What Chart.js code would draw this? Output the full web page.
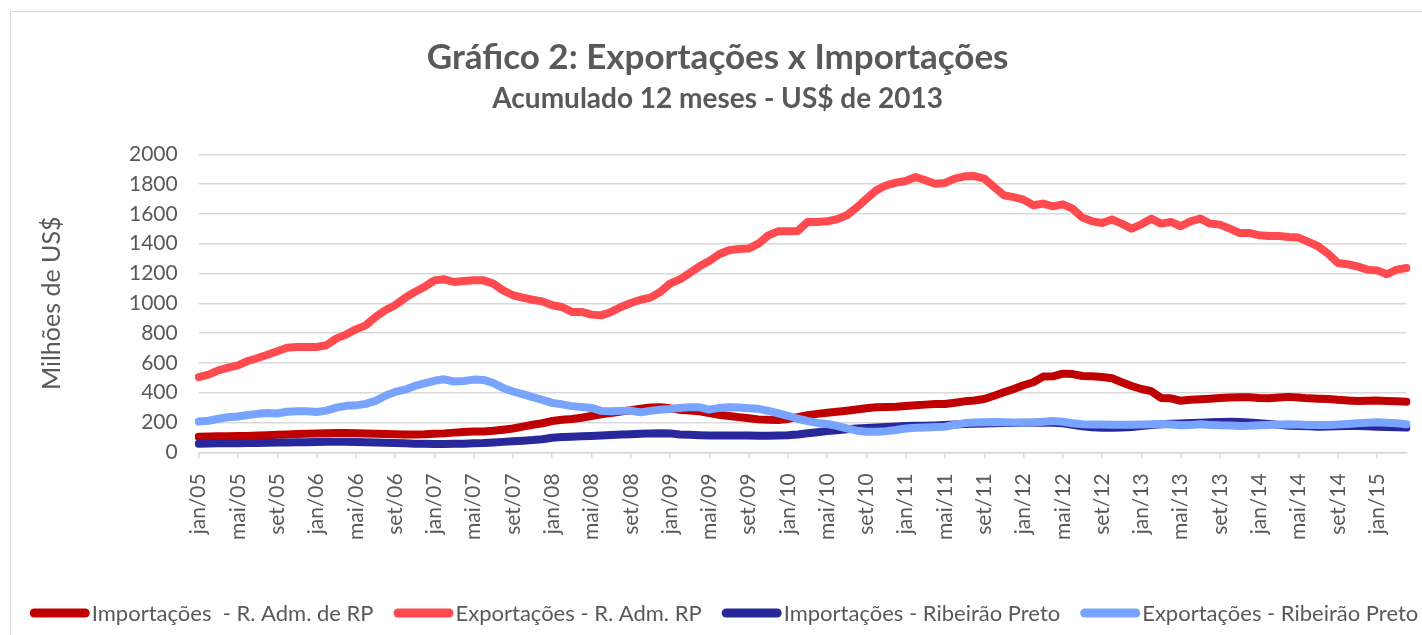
<!DOCTYPE html>
<html>
<head>
<meta charset="utf-8">
<script src="https://cdn.jsdelivr.net/npm/chart.js@4.4.0/dist/chart.umd.min.js"></script>
<style>
  html, body { margin: 0; padding: 0; background: #fff; overflow: hidden; }
  #frame { position: absolute; left: 10px; top: 11px; width: 1500px; height: 700px; border: 1.5px solid #d9d9d9; }
  #grafico { position: absolute; left: 0; top: 0; width: 1422px; height: 635px; }
</style>
</head>
<body>
<div id="frame"></div>
<canvas id="grafico" width="1422" height="635"></canvas>
<script>
// rótulos do eixo x (mensal, jan/05 a abr/15)
var meses = ['jan', 'fev', 'mar', 'abr', 'mai', 'jun', 'jul', 'ago', 'set', 'out', 'nov', 'dez'];
var anos = ['05', '06', '07', '08', '09', '10', '11', '12', '13', '14', '15'];
var nPontos = 124;
var yTicks = [0, 200, 400, 600, 800, 1000, 1200, 1400, 1600, 1800, 2000];

var nomes = ['Importações  - R. Adm. de RP', 'Exportações - R. Adm. RP', 'Importações - Ribeirão Preto', 'Exportações - Ribeirão Preto'];
var cores = ['#C00000', '#FF4B4F', '#28289A', '#78A4FF'];

// milhões de US$ (acumulado 12 meses)
var imp_ra = [105, 106, 107, 108, 109, 110, 112, 115, 118, 120, 122, 124, 126, 128, 130, 130, 128, 126, 124, 122, 121, 120, 120, 121,
    124, 127, 132, 136, 140, 140, 145, 152, 160, 172, 185, 195, 210, 218, 224, 232, 244, 255, 264, 273, 282, 293, 300, 302,
    295, 286, 280, 275, 263, 252, 244, 236, 228, 221, 218, 217, 224, 236, 249, 258, 266, 272, 279, 287, 296, 302, 304, 306,
    311, 315, 320, 324, 324, 333, 342, 348, 358, 380, 403, 425, 450, 470, 508, 510, 528, 525, 512, 510, 505, 497, 470, 445,
    425, 410, 365, 362, 346, 352, 356, 360, 365, 368, 370, 369, 365, 363, 368, 372, 368, 362, 360, 358, 352, 348, 345, 346,
    348, 345, 342, 340];
var exp_ra = [505, 521, 550, 568, 583, 613, 633, 655, 678, 702, 707, 707, 707, 718, 763, 790, 825, 852, 908, 953, 987, 1036, 1076, 1110,
    1154, 1161, 1143, 1150, 1154, 1154, 1132, 1087, 1054, 1038, 1024, 1013, 987, 975, 942, 942, 924, 919, 942, 975, 1002, 1024, 1038, 1076,
    1132, 1161, 1203, 1248, 1284, 1329, 1356, 1364, 1367, 1400, 1456, 1483, 1483, 1485, 1546, 1546, 1550, 1564, 1591, 1642, 1702, 1758, 1792, 1810,
    1821, 1848, 1826, 1803, 1808, 1837, 1852, 1854, 1837, 1781, 1725, 1713, 1696, 1658, 1669, 1651, 1664, 1635, 1575, 1550, 1539, 1562, 1535, 1501,
    1530, 1568, 1535, 1546, 1517, 1550, 1568, 1535, 1528, 1501, 1472, 1472, 1456, 1452, 1452, 1445, 1441, 1412, 1383, 1333, 1271, 1262, 1248, 1226,
    1221, 1195, 1226, 1237];
var imp_rp = [58, 59, 60, 60, 61, 62, 63, 64, 65, 66, 67, 68, 69, 70, 70, 70, 69, 68, 66, 64, 62, 60, 58, 57,
    56, 56, 57, 58, 60, 62, 66, 70, 74, 78, 82, 88, 98, 102, 104, 107, 110, 113, 116, 119, 121, 124, 127, 128,
    127, 120, 118, 115, 113, 112, 112, 112, 112, 111, 111, 112, 114, 120, 128, 135, 142, 148, 154, 160, 163, 166, 170, 174,
    176, 178, 178, 180, 183, 187, 190, 192, 194, 195, 196, 197, 198, 199, 199, 199, 195, 185, 175, 168, 165, 165, 166, 170,
    176, 183, 188, 191, 194, 196, 198, 201, 204, 205, 204, 200, 195, 190, 184, 178, 176, 174, 172, 173, 175, 177, 177, 175,
    172, 170, 168, 166];
var exp_rp = [206, 212, 225, 235, 240, 250, 258, 264, 260, 272, 276, 276, 270, 280, 300, 312, 315, 325, 345, 380, 405, 420, 445, 462,
    480, 490, 475, 478, 488, 486, 465, 432, 408, 390, 370, 352, 332, 322, 310, 304, 298, 278, 275, 278, 280, 268, 278, 285,
    290, 298, 302, 302, 286, 298, 302, 300, 296, 292, 278, 262, 245, 225, 210, 197, 190, 178, 160, 145, 138, 138, 142, 150,
    160, 165, 167, 170, 172, 185, 196, 200, 202, 203, 202, 200, 199, 200, 205, 210, 205, 195, 188, 187, 186, 185, 185, 185,
    186, 188, 190, 186, 181, 184, 188, 184, 181, 180, 177, 178, 181, 183, 186, 188, 186, 184, 183, 184, 186, 190, 195, 199,
    201, 198, 195, 188];

var rotulos = [];
for (let i = 0; i < nPontos; i++) {
    rotulos.push(meses[i % 12] + '/' + anos[Math.floor(i / 12)]);
}

var series = [imp_ra, exp_ra, imp_rp, exp_rp];
var ordem = [4, 3, 2, 1]; // última série por cima, como no Excel

var cinza = '#595959';
var fonte = 'Lato';

// legenda desenhada à mão (linha grossa + texto colado)
var legendaPlugin = {
    id: 'legendaLinhas',
    afterDraw(chart) {
        const ctx = chart.ctx;
        const y = 613;
        const larguraLinha = 60, gapTexto = 2, gapItem = 20;
        ctx.save();
        ctx.font = '22px ' + fonte;
        let total = 0;
        const larguras = nomes.map(n => ctx.measureText(n).width);
        larguras.forEach((w, i) => {
            total += larguraLinha + gapTexto + w;
            if (i < nomes.length - 1) total += gapItem;
        });
        let x = 724 - total / 2;
        nomes.forEach((n, i) => {
            ctx.strokeStyle = cores[i];
            ctx.lineWidth = 9;
            ctx.lineCap = 'round';
            ctx.beginPath();
            ctx.moveTo(x + 4.5, y);
            ctx.lineTo(x + larguraLinha - 4.5, y);
            ctx.stroke();
            ctx.fillStyle = cinza;
            ctx.textBaseline = 'middle';
            ctx.textAlign = 'left';
            ctx.fillText(n, x + larguraLinha + gapTexto, y + 1);
            x += larguraLinha + gapTexto + larguras[i] + gapItem;
        });
        ctx.restore();
    }
};

const ctx = document.getElementById('grafico').getContext('2d');
const grafico = new Chart(ctx, {
    type: 'line',
    data: {
        labels: rotulos,
        datasets: series.map((d, i) => ({
            label: nomes[i],
            data: d,
            borderColor: cores[i],
            backgroundColor: cores[i],
            borderWidth: 8,
            borderCapStyle: 'round',
            borderJoinStyle: 'round',
            pointRadius: 0,
            tension: 0,
            order: ordem[i],
        })),
    },
    options: {
        responsive: false,
        animation: false,
        devicePixelRatio: 1,
        layout: {
            padding: { left: 28.7, right: 15.5, top: 0, bottom: 62.7 },
        },
        plugins: {
            legend: { display: false },
            tooltip: { enabled: false },
            title: {
                display: true,
                text: 'Gráfico 2: Exportações x Importações',
                color: cinza,
                font: { family: fonte, size: 35, weight: 'bold' },
                padding: { top: 37, bottom: 0 },
            },
            subtitle: {
                display: true,
                text: 'Acumulado 12 meses - US$ de 2013',
                color: cinza,
                font: { family: fonte, size: 28, weight: 'bold' },
                padding: { top: 3.2, bottom: 38.5 },
            },
        },
        scales: {
            x: {
                afterFit: (scale) => {
                    scale.height = 120;
                    scale.paddingRight = 0;
                    scale.paddingLeft = 0;
                },
                border: { display: true, color: '#d9d9d9', width: 1.5 },
                grid: {
                    drawOnChartArea: false,
                    drawTicks: true,
                    tickLength: 6,
                    lineWidth: 1.5,
                    color: (c) => (c.index % 4 === 0 ? '#d9d9d9' : 'rgba(0,0,0,0)'),
                },
                ticks: {
                    autoSkip: false,
                    minRotation: 90,
                    maxRotation: 90,
                    padding: 15,
                    color: cinza,
                    font: { family: fonte, size: 21 },
                    callback: function(value, index) {
                        return index % 4 === 0 ? this.getLabelForValue(value) : '';
                    },
                },
            },
            y: {
                min: 0,
                max: 2000,
                afterFit: (scale) => { scale.width = 170; },
                afterBuildTicks: (scale) => { scale.ticks = yTicks.map(v => ({ value: v })); },
                border: { display: false },
                grid: { color: '#d9d9d9', lineWidth: 1.5, drawTicks: false },
                ticks: {
                    padding: 21,
                    color: cinza,
                    font: { family: fonte, size: 21 },
                    callback: (v) => String(v),
                },
                title: {
                    display: true,
                    text: 'Milhões de US$',
                    color: cinza,
                    font: { family: fonte, size: 25 },
                    padding: { top: 8, bottom: 0 },
                },
            },
        },
    },
    plugins: [legendaPlugin],
});
</script>
</body>
</html>
